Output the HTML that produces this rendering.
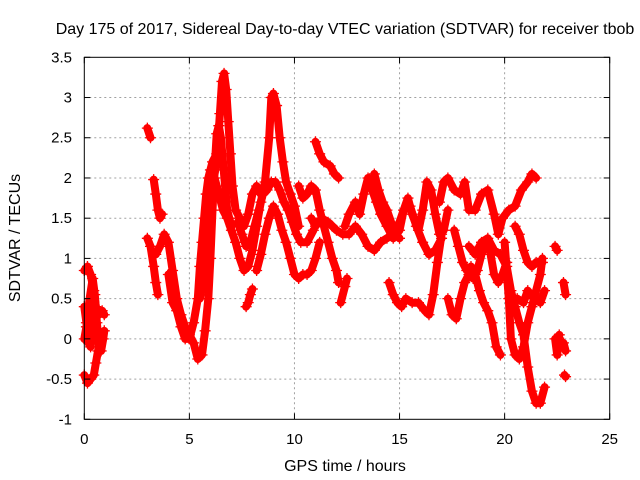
<!DOCTYPE html>
<html><head><meta charset="utf-8"><style>
body{margin:0;background:#fff}
svg{display:block;font-family:"Liberation Sans",sans-serif}
</style></head><body>
<svg id="chart" width="640" height="480" viewBox="0 0 640 480">
<rect width="640" height="480" fill="#fff"/>
<text x="345" y="34" font-size="16" text-anchor="middle" fill="#000">Day 175 of 2017, Sidereal Day-to-day VTEC variation (SDTVAR) for receiver tbob</text>
<text x="345" y="471" font-size="16" text-anchor="middle">GPS time / hours</text>
<text transform="translate(20,238) rotate(-90)" font-size="16" text-anchor="middle">SDTVAR / TECUs</text>
<g id="grid"></g>
<g id="marks"></g>
<rect x="84.3" y="57.3" width="525.4" height="362" fill="none" stroke="#000" stroke-width="1"/>
<g id="ticks"></g>
</svg>
<script>
const xTicks = [0,5,10,15,20,25];
const yTicks = [-1,-0.5,0,0.5,1,1.5,2,2.5,3,3.5];
const yTickLabels = ["-1","-0.5","0","0.5","1","1.5","2","2.5","3","3.5"];
const s01=[[0,0.85],[0.15,0.9],[0.3,0.8],[0.45,0.6],[0.55,0.4],[0.7,0.3],[0.85,0.35],[0.95,0.3]];
const s02=[[0,0],[0.1,0.15],[0.25,0.5],[0.4,0.75],[0.5,0.55],[0.6,0.2],[0.7,-0.1],[0.8,-0.15],[0.9,0],[0.95,0.1]];
const s03=[[0,-0.45],[0.15,-0.55],[0.3,-0.5],[0.45,-0.45],[0.55,-0.3],[0.65,-0.15],[0.75,-0.05]];
const s04=[[0,0.4],[0.1,0.2],[0.2,-0.05],[0.3,-0.1],[0.4,0.1],[0.5,0.3]];
const s05=[[3.0,2.62],[3.15,2.5]];
const s06=[[3.3,1.98],[3.4,1.8],[3.5,1.6],[3.6,1.5],[3.7,1.55]];
const s07=[[3.0,1.25],[3.15,1.15],[3.3,0.9],[3.4,0.7],[3.5,0.55]];
const s08=[[3.4,1.05],[3.6,1.15],[3.8,1.3],[4.0,1.2],[4.2,0.85],[4.4,0.5],[4.6,0.3],[4.8,0.15],[5.0,0.05],[5.2,-0.05],[5.4,-0.25],[5.6,-0.2],[5.75,0.1],[5.9,0.5],[6.0,1.0],[6.1,1.6],[6.2,2.1],[6.3,2.55],[6.4,2.65],[6.5,2.5],[6.6,2.2],[6.7,1.9],[6.8,1.6],[6.9,1.5],[7.0,1.4]];
const s09=[[4.0,0.8],[4.2,0.45],[4.4,0.35],[4.6,0.15],[4.8,0],[5.0,0],[5.2,0.2],[5.4,0.5],[5.5,0.9],[5.6,1.2],[5.7,1.5],[5.8,1.8],[5.9,2.0],[6.0,2.1],[6.1,2.2],[6.3,2.3]];
const s10=[[5.5,0.5],[5.7,0.8],[5.9,1.4],[6.1,1.9],[6.3,2.2],[6.45,2.8],[6.55,3.2],[6.65,3.3],[6.75,3.1],[6.85,2.7],[6.95,2.3],[7.05,1.9],[7.2,1.6],[7.4,1.5],[7.6,1.4],[7.8,1.55],[8.0,1.8],[8.2,1.9],[8.4,1.8]];
const s11=[[6.2,2.0],[6.4,1.8],[6.6,1.6],[6.8,1.5],[7.0,1.35],[7.2,1.2],[7.4,1.0],[7.6,0.85],[7.8,0.9],[8.0,1.1],[8.2,1.4],[8.4,1.7],[8.6,1.95],[8.8,2.5],[8.9,3.0],[9.0,3.05],[9.15,2.9],[9.3,2.5],[9.45,2.2],[9.6,1.95],[9.8,1.8],[10.0,1.65],[10.2,1.4]];
const s12=[[7.7,0.4],[7.8,0.45],[7.9,0.55],[8.0,0.62]];
const s13=[[7.3,1.45],[7.5,1.3],[7.7,1.15],[7.9,1.2],[8.1,1.4],[8.3,1.6],[8.5,1.8],[8.7,1.85],[8.9,1.95],[9.1,1.95],[9.3,1.85],[9.5,1.7],[9.7,1.6],[9.9,1.45],[10.1,1.3],[10.3,1.2],[10.6,1.2],[10.9,1.35]];
const s14=[[8.2,0.85],[8.4,1.05],[8.6,1.3],[8.8,1.5],[9.0,1.65],[9.2,1.55],[9.4,1.35],[9.6,1.2],[9.8,1.0],[10.0,0.8],[10.2,0.75],[10.4,0.8],[10.6,0.8],[10.8,0.85],[11.0,1.0],[11.2,1.2]];
const s15=[[11.0,2.45],[11.2,2.3],[11.4,2.2],[11.7,2.15],[11.9,2.05],[12.1,2.0]];
const s16=[[10.2,1.9],[10.4,1.75],[10.6,1.8],[10.8,1.9],[11.0,1.85],[11.2,1.6],[11.4,1.4],[11.6,1.2],[11.8,1.0],[12.0,0.85],[12.1,0.7]];
const s17=[[10.8,1.5],[11.0,1.4],[11.3,1.5],[11.6,1.45],[11.8,1.4],[12.0,1.35],[12.3,1.3],[12.6,1.3],[12.9,1.4],[13.2,1.3],[13.5,1.15],[13.8,1.1],[14.1,1.2],[14.4,1.25],[14.7,1.3],[15.0,1.45],[15.2,1.6],[15.5,1.65],[15.8,1.4],[16.1,1.2],[16.4,1.05],[16.7,1.1],[17.0,1.25]];
const s18=[[12.4,1.4],[12.6,1.55],[12.9,1.7],[13.1,1.55],[13.3,1.8],[13.5,2.0],[13.7,1.85],[13.9,1.7],[14.1,1.55],[14.4,1.4],[14.7,1.25],[15.0,1.35],[15.2,1.6],[15.4,1.75],[15.6,1.55],[15.9,1.35],[16.1,1.6],[16.3,1.95],[16.5,1.85],[16.7,1.55],[16.9,1.3],[17.1,1.35],[17.3,1.6]];
const s19=[[14.5,0.7],[14.7,0.55],[14.9,0.45],[15.1,0.4],[15.3,0.5],[15.6,0.45],[15.9,0.45],[16.2,0.35],[16.4,0.3],[16.6,0.55],[16.8,0.95],[17.0,1.3]];
const s20=[[13.8,2.05],[14.0,1.85],[14.2,1.7],[14.4,1.6],[14.6,1.45],[14.8,1.3],[15.0,1.25]];
const s21=[[16.9,1.7],[17.1,1.95],[17.3,2.0],[17.6,1.85],[17.9,1.8],[18.1,1.95],[18.3,1.6],[18.6,1.6],[18.9,1.8],[19.2,1.85],[19.5,1.55],[19.7,1.3],[19.9,1.5],[20.2,1.6],[20.5,1.65],[20.8,1.85],[21.1,1.95],[21.3,2.05],[21.5,2.0]];
const s22=[[17.3,0.5],[17.5,0.3],[17.7,0.25],[17.9,0.5],[18.1,0.7],[18.3,0.8],[18.5,0.75],[18.7,0.85],[18.9,1.05],[19.1,1.2],[19.3,1.1],[19.5,0.8],[19.7,0.7],[19.9,0.8],[20.1,0.95]];
const s23=[[17.6,1.35],[17.8,1.15],[18.0,0.95],[18.2,0.85],[18.4,0.9],[18.6,0.8],[18.8,0.6],[19.0,0.45],[19.2,0.35],[19.4,0.2],[19.6,-0.1],[19.8,-0.2]];
const s24=[[18.3,1.15],[18.6,1.05],[18.9,1.2],[19.2,1.25],[19.5,1.1],[19.8,1.05],[20.1,0.9],[20.3,0.6],[20.5,0.4],[20.7,0.2],[20.9,0.05],[21.1,-0.35],[21.3,-0.65],[21.5,-0.8],[21.7,-0.8],[21.9,-0.6]];
const s25=[[20.0,1.2],[20.2,0.5],[20.3,0.0],[20.5,-0.2],[20.7,-0.25],[20.9,-0.1],[21.1,0.2],[21.3,0.4],[21.5,0.6],[21.7,0.8],[21.8,1.0]];
const s26=[[20.5,1.4],[20.7,1.3],[20.9,1.1],[21.1,0.95],[21.3,0.9],[21.5,0.95],[21.8,0.95]];
const s27=[[20.6,0.5],[20.9,0.45],[21.1,0.6],[21.4,0.5],[21.7,0.45],[21.9,0.6]];
const s28=[[22.4,1.15],[22.5,1.1]];
const s29=[[22.4,0.0],[22.5,-0.2],[22.6,0.05]];
const s30=[[22.8,0.7],[22.9,0.55]];
const s31=[[22.8,-0.05],[22.9,-0.15]];
const s32=[[22.85,-0.45],[22.9,-0.47]];
const s33=[[12.2,0.45],[12.4,0.65],[12.5,0.75]];
const allSeries=[s01,s02,s03,s04,s05,s06,s07,s08,s09,s10,s11,s12,s13,s14,s15,s16,s17,s18,s19,s20,s21,s22,s23,s24,s25,s26,s27,s28,s29,s30,s31,s32,s33];

const NS="http://www.w3.org/2000/svg";
const X0=84.3,X1=609.7,Y0=419.3,Y1=57.3;
function xs(t){return X0+(t-0)/(25-0)*(X1-X0);}
function ys(v){return Y0-(v-(-1))/(3.5-(-1))*(Y0-Y1);}
function mk(tag,attrs,parent){const e=document.createElementNS(NS,tag);for(const k in attrs)e.setAttribute(k,attrs[k]);parent.appendChild(e);return e;}
const grid=document.getElementById('grid'),ticks=document.getElementById('ticks'),marks=document.getElementById('marks');
xTicks.forEach(t=>{
  const x=xs(t);
  if(t>0&&t<25){const g=mk('line',{x1:x,x2:x,y1:Y1,y2:Y0,stroke:'#a0a0a0','stroke-dasharray':'2,3'},grid);
  
  }
  mk('line',{x1:x,x2:x,y1:Y0,y2:Y0-6,stroke:'#000'},ticks);
  mk('line',{x1:x,x2:x,y1:Y1,y2:Y1+6,stroke:'#000'},ticks);
  const l=mk('text',{x:x,y:444,'font-size':15,'text-anchor':'middle'},ticks);l.textContent=String(t);
  
  
});
yTicks.forEach((v,i)=>{
  const y=ys(v);
  if(v>-1&&v<3.5){const g=mk('line',{x1:X0,x2:X1,y1:y,y2:y,stroke:'#a0a0a0','stroke-dasharray':'2,3'},grid);
  
  }
  mk('line',{x1:X0,x2:X0+6,y1:y,y2:y,stroke:'#000'},ticks);
  mk('line',{x1:X1,x2:X1-6,y1:y,y2:y,stroke:'#000'},ticks);
  const l=mk('text',{x:72,y:y+5,'font-size':15,'text-anchor':'end'},ticks);l.textContent=yTickLabels[i];
  
  
});
allSeries.forEach((s,si)=>{
  const g=mk('g',{},marks);
  
  
  const pts=s.map(p=>xs(p[0]).toFixed(1)+','+ys(p[1]).toFixed(1)).join(' ');
  mk('polyline',{points:pts,fill:'none',stroke:'#ff0000','stroke-width':8,'stroke-linejoin':'round','stroke-linecap':'round'},g);
  s.forEach(p=>{
    const x=xs(p[0]),y=ys(p[1]);
    const m=mk('path',{d:`M${x-5.5},${y}h11M${x},${y-5.5}v11`,stroke:'#ff0000','stroke-width':1.3},g);
    
    
  });
});
</script>
</body></html>
